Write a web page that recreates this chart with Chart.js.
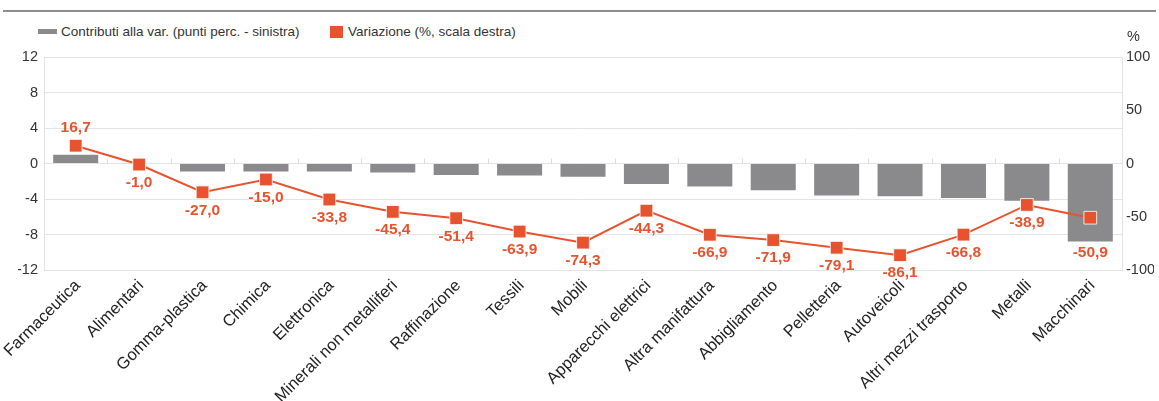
<!DOCTYPE html>
<html>
<head>
<meta charset="utf-8">
<script src="https://cdn.jsdelivr.net/npm/chart.js@4.4.0/dist/chart.umd.min.js"></script>
<style>
html,body{margin:0;padding:0;background:#fff;}
#wrap{position:relative;width:1159px;height:401px;overflow:hidden;font-family:"Liberation Sans",Arial,Helvetica,sans-serif;}
#rule{position:absolute;left:3px;width:1153px;top:10px;height:2px;background:#8e8e8e;}
.sw{position:absolute;}
.lt{position:absolute;font-size:13.5px;color:#333;line-height:16px;white-space:nowrap;}
canvas{position:absolute;left:0;top:0;}
</style>
</head>
<body>
<div id="wrap">
  <div id="rule"></div>
  <div class="sw" style="left:38px;top:29px;width:19px;height:5px;background:#8a8a8c;"></div>
  <div class="lt" style="left:61px;top:24px;">Contributi alla var. (punti perc. - sinistra)</div>
  <div class="sw" style="left:330px;top:26px;width:13px;height:12px;background:#e8532f;"></div>
  <div class="lt" style="left:348px;top:24px;">Variazione (%, scala destra)</div>
  <canvas id="c" width="1159" height="401"></canvas>
</div>
<script>
const categories = ["Farmaceutica","Alimentari","Gomma-plastica","Chimica","Elettronica","Minerali non metalliferi","Raffinazione","Tessili","Mobili","Apparecchi elettrici","Altra manifattura","Abbigliamento","Pelletteria","Autoveicoli","Altri mezzi trasporto","Metalli","Macchinari"];
const contributi = [1.0, 0.0, -0.9, -0.9, -0.9, -1.0, -1.3, -1.35, -1.5, -2.3, -2.6, -3.0, -3.6, -3.7, -3.9, -4.2, -8.8];
const variazione = [16.7, -1.0, -27.0, -15.0, -33.8, -45.4, -51.4, -63.9, -74.3, -44.3, -66.9, -71.9, -79.1, -86.1, -66.8, -38.9, -50.9];
const leftTicks = [-12, -8, -4, 0, 4, 8, 12];
const rightTicks = [-100, -50, 0, 50, 100];

const GREY = '#8a8a8c';
const ORANGE = '#e8532f';
const FONT = '"Liberation Sans", Arial, Helvetica, sans-serif';

const extras = {
  id: 'extras',
  beforeDatasetsDraw(chart) {
    const ctx = chart.ctx;
    const x = chart.scales.x, y = chart.scales.y;
    const zy = y.getPixelForValue(0);
    ctx.save();
    ctx.strokeStyle = '#dcdcdc';
    ctx.lineWidth = 1;
    for (let i = 0; i < categories.length - 1; i++) {
      const bx = Math.round((x.getPixelForTick(i) + x.getPixelForTick(i + 1)) / 2) + 0.5;
      ctx.beginPath();
      ctx.moveTo(bx, zy - 5);
      ctx.lineTo(bx, zy);
      ctx.stroke();
    }
    ctx.restore();
  },
  afterDatasetsDraw(chart) {
    const ctx = chart.ctx;
    const lineMeta = chart.getDatasetMeta(0);
    const barMeta = chart.getDatasetMeta(1);
    ctx.save();
    ctx.font = 'bold 15.5px ' + FONT;
    ctx.fillStyle = ORANGE;
    ctx.textAlign = 'center';
    ctx.textBaseline = 'middle';
    lineMeta.data.forEach((pt, i) => {
      const v = variazione[i];
      let ly;
      if (v >= 0) {
        ly = pt.y - 18;
      } else {
        ly = pt.y + 18;
        const bar = barMeta.data[i];
        const barBottom = Math.max(bar.y, bar.base);
        if (barBottom > pt.y - 8) ly = Math.max(ly, barBottom + 11);
      }
      ctx.fillText(v.toFixed(1).replace('.', ','), pt.x, ly);
    });
    const y1 = chart.scales.y1;
    ctx.font = '14.5px ' + FONT;
    ctx.fillStyle = '#333';
    ctx.textAlign = 'left';
    ctx.fillText('%', y1.left + 5, chart.chartArea.top - 20);
    ctx.restore();
  }
};

new Chart(document.getElementById('c'), {
  data: {
    labels: categories,
    datasets: [
      {
        type: 'line',
        label: 'Variazione (%, scala destra)',
        data: variazione,
        yAxisID: 'y1',
        borderColor: ORANGE,
        borderWidth: 2,
        pointStyle: 'rect',
        pointRadius: 9,
        pointHoverRadius: 9,
        pointBackgroundColor: ORANGE,
        pointBorderColor: 'rgba(255,255,255,0.8)',
        pointBorderWidth: 1,
        tension: 0,
        order: 0
      },
      {
        type: 'bar',
        label: 'Contributi alla var. (punti perc. - sinistra)',
        data: contributi,
        yAxisID: 'y',
        backgroundColor: GREY,
        categoryPercentage: 1,
        barPercentage: 0.71,
        order: 1
      }
    ]
  },
  options: {
    responsive: false,
    animation: false,
    events: [],
    layout: { padding: { top: 57, left: 18, right: 5, bottom: 0 } },
    plugins: { legend: { display: false }, tooltip: { enabled: false } },
    scales: {
      x: {
        grid: { display: false },
        border: { display: false },
        ticks: {
          autoSkip: false, maxRotation: 45, minRotation: 45, padding: -2, labelOffset: 2,
          color: '#222', font: { family: FONT, size: 16.5 }
        },
        afterFit(s) { s.height = 131; s.paddingLeft = 0; s.paddingRight = 0; }
      },
      y: {
        position: 'left',
        min: -12, max: 12,
        afterBuildTicks(s) { s.ticks = leftTicks.map(v => ({ value: v })); },
        grid: { color: '#e3e3e3', lineWidth: 1, drawTicks: false },
        border: { display: true, color: '#e3e3e3' },
        ticks: { padding: 6, color: '#333', font: { family: FONT, size: 14.5 } },
        afterFit(s) { s.width = 26; s.paddingTop = 0; s.paddingBottom = 0; }
      },
      y1: {
        position: 'right',
        min: -100, max: 100,
        afterBuildTicks(s) { s.ticks = rightTicks.map(v => ({ value: v })); },
        grid: { drawOnChartArea: false, drawTicks: false },
        border: { display: true, color: '#e3e3e3' },
        ticks: { padding: 4, color: '#333', font: { family: FONT, size: 14.5 } },
        afterFit(s) { s.width = 32; s.paddingTop = 0; s.paddingBottom = 0; }
      }
    }
  },
  plugins: [extras]
});
</script>
</body>
</html>
